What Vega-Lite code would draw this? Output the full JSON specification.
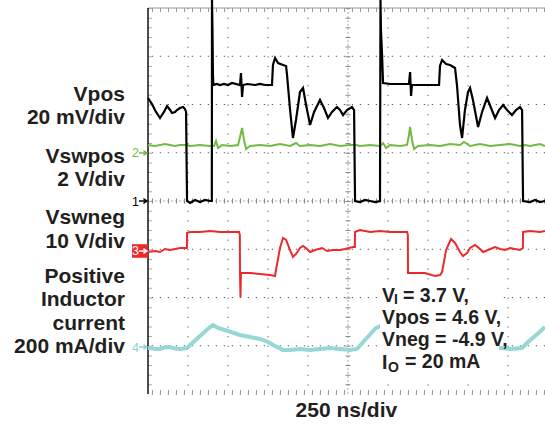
{
  "$schema": "https://vega.github.io/schema/vega-lite/v6.json",
  "width": 397,
  "height": 386,
  "autosize": {"type": "none"},
  "padding": {"left": 148, "top": 8, "right": 0, "bottom": 30},
  "background": "white",
  "config": {"view": {"stroke": null}, "font": "Liberation Sans"},
  "data": {"values": [{}]},
  "datasets": {
    "vgrid": [{"t": 250}, {"t": 500}, {"t": 750}, {"t": 1000}, {"t": 1500}, {"t": 1750}, {"t": 2000}, {"t": 2250}],
    "hgrid": [{"v": -4}, {"v": -3}, {"v": -2}, {"v": -1}, {"v": 1}, {"v": 2}, {"v": 3}],
    "il": [
      {"t": 0, "v": -3.047}, {"t": 40, "v": -3.06}, {"t": 75, "v": -3.067}, {"t": 110, "v": -3.03}, {"t": 138, "v": -3.026}, {"t": 170, "v": -3.06}, {"t": 200, "v": -3.067}, {"t": 244, "v": -3.047},
      {"t": 263, "v": -2.984}, {"t": 325, "v": -2.798}, {"t": 388, "v": -2.611}, {"t": 406, "v": -2.57}, {"t": 438, "v": -2.632},
      {"t": 500, "v": -2.694}, {"t": 575, "v": -2.777}, {"t": 638, "v": -2.819}, {"t": 700, "v": -2.86}, {"t": 750, "v": -2.922},
      {"t": 794, "v": -3.005}, {"t": 844, "v": -3.088}, {"t": 888, "v": -3.088}, {"t": 950, "v": -3.067}, {"t": 1013, "v": -3.088},
      {"t": 1075, "v": -3.067}, {"t": 1138, "v": -3.047}, {"t": 1200, "v": -3.067}, {"t": 1263, "v": -3.088}, {"t": 1306, "v": -3.067},
      {"t": 1356, "v": -2.881}, {"t": 1425, "v": -2.632}, {"t": 1456, "v": -2.59}, {"t": 1500, "v": -2.65}, {"t": 1575, "v": -2.73},
      {"t": 1650, "v": -2.8}, {"t": 1731, "v": -2.88}, {"t": 1800, "v": -2.99}, {"t": 1850, "v": -3.067}, {"t": 1950, "v": -3.067},
      {"t": 2100, "v": -3.067}, {"t": 2200, "v": -3.047}, {"t": 2263, "v": -3.067}, {"t": 2338, "v": -3.047}, {"t": 2375, "v": -2.922},
      {"t": 2419, "v": -2.798}, {"t": 2481, "v": -2.611}
    ],
    "vswneg": [
      {"t": 0, "v": -1.057}, {"t": 44, "v": -1.036}, {"t": 75, "v": -1.057}, {"t": 106, "v": -0.995}, {"t": 138, "v": -1.016},
      {"t": 169, "v": -0.995}, {"t": 200, "v": -0.974}, {"t": 231, "v": -0.974}, {"t": 243, "v": -0.974}, {"t": 244, "v": -0.663},
      {"t": 263, "v": -0.642}, {"t": 325, "v": -0.642}, {"t": 388, "v": -0.622}, {"t": 450, "v": -0.642}, {"t": 513, "v": -0.642},
      {"t": 569, "v": -0.642}, {"t": 574, "v": -0.7}, {"t": 575, "v": -1.492}, {"t": 578, "v": -1.99}, {"t": 581, "v": -1.492},
      {"t": 638, "v": -1.492}, {"t": 700, "v": -1.513}, {"t": 763, "v": -1.534}, {"t": 794, "v": -1.554}, {"t": 800, "v": -1.43},
      {"t": 825, "v": -0.974}, {"t": 844, "v": -0.767}, {"t": 863, "v": -0.808}, {"t": 888, "v": -1.016}, {"t": 906, "v": -1.161},
      {"t": 925, "v": -1.098}, {"t": 950, "v": -0.974}, {"t": 969, "v": -0.933}, {"t": 994, "v": -0.995}, {"t": 1013, "v": -1.057},
      {"t": 1044, "v": -1.016}, {"t": 1088, "v": -0.974}, {"t": 1119, "v": -1.036}, {"t": 1156, "v": -1.016}, {"t": 1200, "v": -1.016},
      {"t": 1231, "v": -0.995}, {"t": 1281, "v": -0.953}, {"t": 1293, "v": -0.953}, {"t": 1294, "v": -0.642}, {"t": 1325, "v": -0.601},
      {"t": 1388, "v": -0.642}, {"t": 1450, "v": -0.622}, {"t": 1513, "v": -0.642}, {"t": 1619, "v": -0.642}, {"t": 1624, "v": -0.7},
      {"t": 1625, "v": -1.492}, {"t": 1669, "v": -1.492}, {"t": 1731, "v": -1.492}, {"t": 1794, "v": -1.554}, {"t": 1825, "v": -1.534},
      {"t": 1838, "v": -1.472}, {"t": 1863, "v": -1.016}, {"t": 1894, "v": -0.788}, {"t": 1919, "v": -0.87}, {"t": 1950, "v": -1.057},
      {"t": 1969, "v": -1.14}, {"t": 1994, "v": -1.078}, {"t": 2013, "v": -0.974}, {"t": 2044, "v": -0.912}, {"t": 2075, "v": -0.995},
      {"t": 2094, "v": -1.057}, {"t": 2125, "v": -1.016}, {"t": 2169, "v": -0.953}, {"t": 2200, "v": -0.995}, {"t": 2231, "v": -1.016},
      {"t": 2263, "v": -0.974}, {"t": 2294, "v": -0.995}, {"t": 2325, "v": -1.016}, {"t": 2343, "v": -0.974}, {"t": 2344, "v": -0.642},
      {"t": 2388, "v": -0.622}, {"t": 2450, "v": -0.642}, {"t": 2481, "v": -0.622}
    ],
    "vswpos": [
      {"t": 0, "v": 1.161}, {"t": 44, "v": 1.14}, {"t": 75, "v": 1.161}, {"t": 106, "v": 1.181}, {"t": 138, "v": 1.161},
      {"t": 169, "v": 1.14}, {"t": 200, "v": 1.161}, {"t": 238, "v": 1.161}, {"t": 263, "v": 1.14}, {"t": 325, "v": 1.161},
      {"t": 388, "v": 1.14}, {"t": 413, "v": 1.14}, {"t": 425, "v": 1.244}, {"t": 438, "v": 1.098}, {"t": 463, "v": 1.161},
      {"t": 513, "v": 1.14}, {"t": 563, "v": 1.161}, {"t": 575, "v": 1.326}, {"t": 588, "v": 1.513}, {"t": 600, "v": 1.264},
      {"t": 613, "v": 1.078}, {"t": 638, "v": 1.14}, {"t": 700, "v": 1.161}, {"t": 763, "v": 1.14}, {"t": 825, "v": 1.181},
      {"t": 888, "v": 1.14}, {"t": 925, "v": 1.202}, {"t": 950, "v": 1.14}, {"t": 1013, "v": 1.161}, {"t": 1075, "v": 1.14},
      {"t": 1138, "v": 1.181}, {"t": 1200, "v": 1.14}, {"t": 1263, "v": 1.161}, {"t": 1300, "v": 1.161}, {"t": 1325, "v": 1.14},
      {"t": 1388, "v": 1.161}, {"t": 1450, "v": 1.14}, {"t": 1469, "v": 1.202}, {"t": 1488, "v": 1.098}, {"t": 1513, "v": 1.161},
      {"t": 1575, "v": 1.14}, {"t": 1619, "v": 1.161}, {"t": 1631, "v": 1.368}, {"t": 1638, "v": 1.534}, {"t": 1650, "v": 1.264},
      {"t": 1663, "v": 1.078}, {"t": 1688, "v": 1.14}, {"t": 1763, "v": 1.161}, {"t": 1825, "v": 1.14}, {"t": 1888, "v": 1.181},
      {"t": 1950, "v": 1.161}, {"t": 1975, "v": 1.223}, {"t": 2013, "v": 1.14}, {"t": 2075, "v": 1.181}, {"t": 2138, "v": 1.14},
      {"t": 2200, "v": 1.161}, {"t": 2263, "v": 1.181}, {"t": 2325, "v": 1.14}, {"t": 2356, "v": 1.161}, {"t": 2388, "v": 1.14},
      {"t": 2450, "v": 1.181}, {"t": 2481, "v": 1.14}
    ],
    "vpos": [
      {"t": 0, "v": 2.135}, {"t": 25, "v": 2.01}, {"t": 50, "v": 1.845}, {"t": 75, "v": 1.72}, {"t": 100, "v": 1.845},
      {"t": 119, "v": 1.969}, {"t": 138, "v": 1.886}, {"t": 150, "v": 1.824}, {"t": 169, "v": 1.845}, {"t": 181, "v": 1.886},
      {"t": 200, "v": 1.927}, {"t": 219, "v": 1.948}, {"t": 231, "v": 1.907}, {"t": 238, "v": 1.845}, {"t": 243, "v": 0.3},
      {"t": 244, "v": 0}, {"t": 263, "v": -0.041}, {"t": 294, "v": 0.021}, {"t": 325, "v": -0.021}, {"t": 356, "v": 0.021},
      {"t": 388, "v": 0}, {"t": 399, "v": 0}, {"t": 400, "v": 4.166}, {"t": 403, "v": 3.544}, {"t": 406, "v": 2.6},
      {"t": 409, "v": 2.404}, {"t": 430, "v": 2.425}, {"t": 450, "v": 2.404}, {"t": 475, "v": 2.425}, {"t": 500, "v": 2.404},
      {"t": 525, "v": 2.445}, {"t": 575, "v": 2.404}, {"t": 581, "v": 2.653}, {"t": 588, "v": 2.155}, {"t": 594, "v": 2.404},
      {"t": 620, "v": 2.425}, {"t": 669, "v": 2.404}, {"t": 700, "v": 2.425}, {"t": 731, "v": 2.404}, {"t": 775, "v": 2.404},
      {"t": 781, "v": 2.819}, {"t": 794, "v": 2.964}, {"t": 813, "v": 2.86}, {"t": 844, "v": 2.819}, {"t": 863, "v": 2.798},
      {"t": 869, "v": 2.611}, {"t": 888, "v": 1.886}, {"t": 906, "v": 1.306}, {"t": 925, "v": 1.679}, {"t": 950, "v": 2.259},
      {"t": 969, "v": 2.342}, {"t": 988, "v": 1.99}, {"t": 1013, "v": 1.575}, {"t": 1038, "v": 1.845}, {"t": 1075, "v": 2.093},
      {"t": 1100, "v": 1.927}, {"t": 1125, "v": 1.72}, {"t": 1150, "v": 1.845}, {"t": 1181, "v": 1.948}, {"t": 1200, "v": 1.886},
      {"t": 1219, "v": 1.782}, {"t": 1244, "v": 1.886}, {"t": 1275, "v": 1.948}, {"t": 1288, "v": 1.886}, {"t": 1293, "v": 0.3},
      {"t": 1294, "v": 0}, {"t": 1325, "v": -0.021}, {"t": 1356, "v": 0.021}, {"t": 1388, "v": 0}, {"t": 1420, "v": -0.021},
      {"t": 1450, "v": 0}, {"t": 1453, "v": 4.166}, {"t": 1456, "v": 3.544}, {"t": 1463, "v": 3.026}, {"t": 1469, "v": 2.446},
      {"t": 1513, "v": 2.425}, {"t": 1575, "v": 2.425}, {"t": 1631, "v": 2.425}, {"t": 1638, "v": 2.674}, {"t": 1644, "v": 2.176},
      {"t": 1650, "v": 2.404}, {"t": 1731, "v": 2.404}, {"t": 1819, "v": 2.404}, {"t": 1825, "v": 2.798}, {"t": 1838, "v": 2.922},
      {"t": 1863, "v": 2.839}, {"t": 1888, "v": 2.819}, {"t": 1919, "v": 2.756}, {"t": 1931, "v": 2.404}, {"t": 1950, "v": 1.575},
      {"t": 1963, "v": 1.306}, {"t": 1981, "v": 1.886}, {"t": 2000, "v": 2.259}, {"t": 2013, "v": 2.342}, {"t": 2031, "v": 2.093},
      {"t": 2063, "v": 1.534}, {"t": 2088, "v": 1.845}, {"t": 2119, "v": 2.135}, {"t": 2144, "v": 1.927}, {"t": 2169, "v": 1.72},
      {"t": 2194, "v": 1.886}, {"t": 2219, "v": 1.99}, {"t": 2244, "v": 1.886}, {"t": 2275, "v": 1.782}, {"t": 2300, "v": 1.886},
      {"t": 2325, "v": 1.948}, {"t": 2338, "v": 1.886}, {"t": 2343, "v": 0.3}, {"t": 2344, "v": 0}, {"t": 2388, "v": -0.021},
      {"t": 2419, "v": 0.021}, {"t": 2450, "v": -0.021}, {"t": 2481, "v": 0}
    ],
    "labels": [
      {"t": -144, "v": 2.079, "txt": ["Vpos", "20 mV/div"]},
      {"t": -144, "v": 0.788, "txt": ["Vswpos", "2 V/div"]},
      {"t": -144, "v": -0.477, "txt": ["Vswneg", "10 V/div"]},
      {"t": -144, "v": -1.699, "txt": ["Positive", "Inductor", "current", "200 mA/div"]}
    ],
    "markers": [
      {"ch": "1", "t": 0, "v": 0, "txt": "1"},
      {"ch": "2", "t": 0, "v": 0.995, "txt": "2"},
      {"ch": "3", "t": 0, "v": -1.036, "txt": "3"},
      {"ch": "4", "t": 0, "v": -3.026, "txt": "4"}
    ],
    "notes": [
      {"t": 1462.5, "v": -2.087, "txt": ["V", "Vpos = 4.6 V,", "Vneg = -4.9 V,", "I"]},
      {"t": 1593.75, "v": -2.087, "txt": "= 3.7 V,"},
      {"t": 1606.25, "v": -3.47, "txt": "= 20 mA"}
    ],
    "subs": [
      {"t": 1537.5, "v": -2.135, "txt": "I"},
      {"t": 1500, "v": -3.544, "txt": "O"}
    ],
    "foot": [
      {"t": 1240, "v": -4.477, "txt": "250 ns/div"}
    ]
  },
  "layer": [
    {
      "data": {"name": "vgrid"},
      "mark": {"type": "rule", "color": "#555555", "strokeWidth": 1, "strokeDash": [1.2, 8.45]},
      "encoding": {"x": {"field": "t", "type": "quantitative", "axis": null, "scale": {"domain": [0, 2481.25], "nice": false, "zero": false}}}
    },
    {
      "data": {"name": "hgrid"},
      "mark": {"type": "rule", "color": "#555555", "strokeWidth": 1, "strokeDash": [1.2, 6.8]},
      "encoding": {"y": {"field": "v", "type": "quantitative", "axis": null, "scale": {"domain": [-4, 4], "nice": false, "zero": false}}}
    },
    {"mark": {"type": "rule", "color": "#aaaaaa", "strokeDash": [2, 2]}, "encoding": {"y": {"datum": 0, "type": "quantitative", "axis": null}}},
    {"mark": {"type": "rule", "color": "#888888", "strokeWidth": 5, "strokeDash": [1, 7]}, "encoding": {"y": {"datum": 0, "type": "quantitative", "axis": null}}},
    {"mark": {"type": "rule", "color": "#aaaaaa", "strokeDash": [2, 2]}, "encoding": {"x": {"datum": 1250, "type": "quantitative", "axis": null}}},
    {"mark": {"type": "rule", "color": "#888888", "strokeWidth": 5, "strokeDash": [1, 8.65]}, "encoding": {"x": {"datum": 1250, "type": "quantitative", "axis": null}}},
    {"mark": {"type": "rule", "color": "#999999", "strokeWidth": 1}, "encoding": {"y": {"datum": 4, "type": "quantitative", "axis": null}}},
    {"mark": {"type": "rule", "color": "#999999", "strokeWidth": 4, "strokeDash": [1, 7], "yOffset": 2}, "encoding": {"y": {"datum": 4, "type": "quantitative", "axis": null}}},
    {"mark": {"type": "rule", "color": "#999999", "strokeWidth": 4, "strokeDash": [1, 7], "yOffset": -2}, "encoding": {"y": {"datum": -4, "type": "quantitative", "axis": null}}},
    {"mark": {"type": "rule", "color": "#aaaaaa", "strokeWidth": 4, "strokeDash": [1, 8.65], "xOffset": 2}, "encoding": {"x": {"datum": 0, "type": "quantitative", "axis": null}}},
    {"mark": {"type": "rule", "color": "#111111", "strokeWidth": 1.5}, "encoding": {"x": {"datum": 0, "type": "quantitative", "axis": null}}},
    {
      "data": {"name": "il"},
      "mark": {"type": "line", "color": "#97d7d6", "strokeWidth": 4},
      "encoding": {"x": {"field": "t", "type": "quantitative", "axis": null}, "y": {"field": "v", "type": "quantitative", "axis": null}}
    },
    {
      "data": {"name": "vswneg"},
      "mark": {"type": "line", "color": "#ec2a2c", "strokeWidth": 2},
      "encoding": {"x": {"field": "t", "type": "quantitative", "axis": null}, "y": {"field": "v", "type": "quantitative", "axis": null}}
    },
    {
      "data": {"name": "vswpos"},
      "mark": {"type": "line", "color": "#74b944", "strokeWidth": 2},
      "encoding": {"x": {"field": "t", "type": "quantitative", "axis": null}, "y": {"field": "v", "type": "quantitative", "axis": null}}
    },
    {
      "data": {"name": "vpos"},
      "mark": {"type": "line", "color": "#000000", "strokeWidth": 2.2},
      "encoding": {"x": {"field": "t", "type": "quantitative", "axis": null}, "y": {"field": "v", "type": "quantitative", "axis": null}}
    },
    {
      "mark": {"type": "rect", "color": "white"},
      "encoding": {
        "x": {"datum": 1450, "type": "quantitative", "axis": null}, "x2": {"datum": 2194},
        "y": {"datum": -1.68, "type": "quantitative", "axis": null}, "y2": {"datum": -3.63}
      }
    },
    {
      "data": {"name": "labels"},
      "mark": {"type": "text", "align": "right", "baseline": "alphabetic", "fontSize": 21, "fontWeight": "bold", "color": "#231f20", "lineHeight": 23.5},
      "encoding": {"x": {"field": "t", "type": "quantitative", "axis": null}, "y": {"field": "v", "type": "quantitative", "axis": null}, "text": {"field": "txt"}}
    },
    {
      "data": {"name": "markers"},
      "transform": [{"filter": "datum.ch === '3'"}],
      "mark": {"type": "point", "shape": "M-1,-0.85H1V0.85H-1Z", "size": 256, "filled": true, "color": "#ec2a2c", "opacity": 1, "xOffset": -8},
      "encoding": {"x": {"field": "t", "type": "quantitative", "axis": null}, "y": {"field": "v", "type": "quantitative", "axis": null}}
    },
    {
      "data": {"name": "markers"},
      "mark": {"type": "text", "align": "right", "baseline": "middle", "fontSize": 12.5, "dx": -9, "dy": 0.5},
      "encoding": {
        "x": {"field": "t", "type": "quantitative", "axis": null}, "y": {"field": "v", "type": "quantitative", "axis": null},
        "text": {"field": "txt"},
        "color": {"field": "ch", "type": "nominal", "scale": {"domain": ["1", "2", "3", "4"], "range": ["#000000", "#74b944", "#ffffff", "#8fd3d2"]}, "legend": null}
      }
    },
    {
      "data": {"name": "markers"},
      "mark": {"type": "point", "shape": "M-1,0H0.9M0.1,-0.6L1,0L0.1,0.6", "size": 64, "filled": false, "strokeWidth": 1.3, "opacity": 1, "xOffset": -5},
      "encoding": {
        "x": {"field": "t", "type": "quantitative", "axis": null}, "y": {"field": "v", "type": "quantitative", "axis": null},
        "color": {"field": "ch", "type": "nominal", "scale": {"domain": ["1", "2", "3", "4"], "range": ["#000000", "#74b944", "#ffffff", "#8fd3d2"]}, "legend": null}
      }
    },
    {
      "data": {"name": "notes"},
      "mark": {"type": "text", "align": "left", "baseline": "alphabetic", "fontSize": 19.5, "fontWeight": "bold", "color": "#231f20", "lineHeight": 22.3},
      "encoding": {"x": {"field": "t", "type": "quantitative", "axis": null}, "y": {"field": "v", "type": "quantitative", "axis": null}, "text": {"field": "txt"}}
    },
    {
      "data": {"name": "subs"},
      "mark": {"type": "text", "align": "left", "baseline": "alphabetic", "fontSize": 14, "fontWeight": "bold", "color": "#231f20"},
      "encoding": {"x": {"field": "t", "type": "quantitative", "axis": null}, "y": {"field": "v", "type": "quantitative", "axis": null}, "text": {"field": "txt"}}
    },
    {
      "data": {"name": "foot"},
      "mark": {"type": "text", "align": "center", "baseline": "alphabetic", "fontSize": 21, "fontWeight": "bold", "color": "#231f20"},
      "encoding": {"x": {"field": "t", "type": "quantitative", "axis": null}, "y": {"field": "v", "type": "quantitative", "axis": null}, "text": {"field": "txt"}}
    }
  ]
}
